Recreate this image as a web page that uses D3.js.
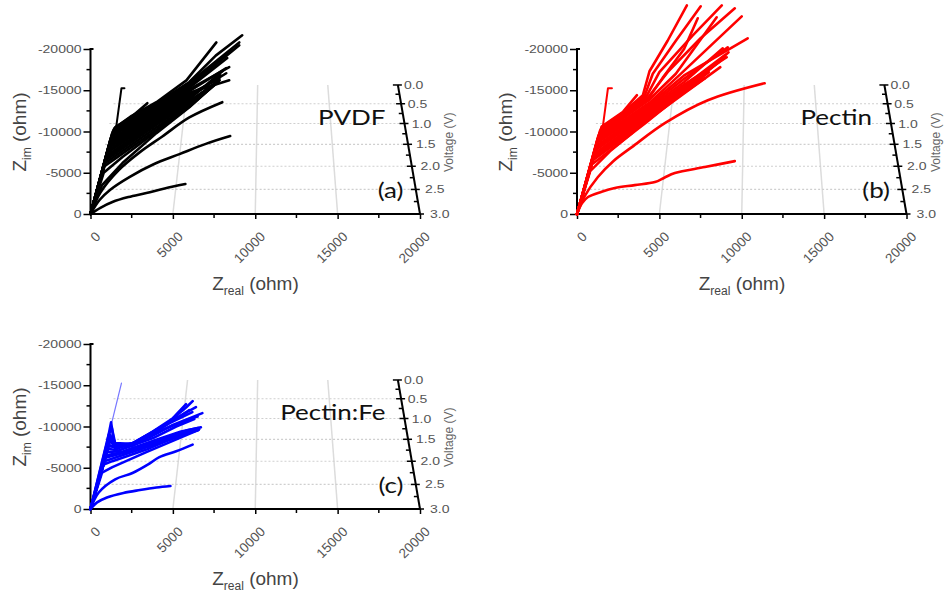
<!DOCTYPE html>
<html>
<head>
<meta charset="utf-8">
<script src="https://cdn.jsdelivr.net/npm/d3@7"></script>
<style>
  body { margin: 0; background: #fff; }
  svg { display: block; }
</style>
</head>
<body>
<svg id="chart" width="944" height="592"></svg>
<script>
// axis ticks
var xTicks = [0, 5000, 10000, 15000, 20000];
var xMinor = [2500, 7500, 12500, 17500];
var yTicks = [0, 5000, 10000, 15000, 20000];   // shown as -Z_im
var yMinor = [2500, 7500, 12500, 17500];
var vTicks = [0.0, 0.5, 1.0, 1.5, 2.0, 2.5, 3.0];
var vMinor = [0.25, 0.75, 1.25, 1.75, 2.25, 2.75];
var vGrid = [0.5, 1.0, 1.5, 2.0, 2.5];
var xGrid = [5000, 10000, 15000];

var panelNames = ['PVDF', 'Pectin', 'Pectin:Fe'];
var panelTags = ['(a)', '(b)', '(c)'];
var panelColors = ['#000000', '#ff0000', '#0000ff'];

// curves: [Z_real, -Z_im] in ohm, one array per voltage step
// "Bundle" = dense low-voltage sweeps, "Lower" = the separated high-voltage sweeps
var pvdfNotch = [[0, 0], [800, 5800], [1575, 10770], [1880, 15250], [2060, 15250]];
var pvdfBundle = [
  [[0, 0], [1500, 10500], [2500, 11800], [3450, 13430]],
  [[0, 0], [1450, 10400], [2500, 11900], [4000, 13550], [5820, 16200], [7640, 20800]],
  [[0, 0], [1400, 10200], [2600, 11700], [4000, 13400], [6000, 16000], [7600, 19200], [9210, 21660]],
  [[0, 0], [1350, 10000], [4000, 13300], [6000, 15900], [9030, 20800]],
  [[0, 0], [1300, 9700], [4000, 13100], [6000, 15700], [8600, 19840]],
  [[0, 0], [1300, 9500], [4000, 13000], [6000, 15500], [9030, 20450]],
  [[0, 0], [1250, 9300], [4000, 12800], [6000, 15300], [8300, 18900]],
  [[0, 0], [1200, 9000], [4000, 12600], [6000, 15100], [8420, 17790]],
  [[0, 0], [1200, 8800], [4000, 12400], [6000, 14900], [8240, 17670]],
  [[0, 0], [1150, 8500], [4000, 12200], [6000, 14700], [8420, 16200]],
  [[0, 0], [1100, 8200], [4000, 12000], [6000, 14500], [7820, 16450]],
  [[0, 0], [1100, 8000], [4000, 11800], [6000, 14300], [8240, 17060]],
  [[0, 0], [1050, 7700], [4000, 11600], [6000, 14100], [7900, 16800]],
  [[0, 0], [1000, 7400], [4000, 11400], [6000, 13900], [8000, 17300]],
  [[0, 0], [1000, 7100], [4000, 11200], [6000, 13700], [7700, 16000]],
  [[0, 0], [950, 6800], [4000, 11000], [6000, 13600], [7820, 16210]],
  [[0, 0], [900, 6500], [4000, 10800], [6000, 13400], [7600, 15800]],
  [[0, 0], [900, 6200], [4000, 10500], [6000, 13200], [7800, 16300]],
  [[0, 0], [850, 5800], [4000, 10200], [6000, 13100], [7700, 15900]],
  [[0, 0], [800, 5000], [1940, 6900], [4000, 10000], [6000, 13000], [7820, 16210]],
  [[0, 0], [700, 3500], [1940, 6170], [4000, 9800], [6000, 12950], [7820, 16210]]
];
var pvdfLower = [
  [[0, 0], [600, 2600], [1700, 5300], [3000, 7500], [4360, 9400], [6000, 11700], [8000, 13550]],
  [[0, 0], [550, 1700], [1200, 2950], [2360, 4480], [3800, 6000], [5400, 7260], [7000, 8500], [8480, 9440]],
  [[0, 0], [600, 750], [1330, 1450], [2300, 2050], [3390, 2540], [4500, 3100], [5760, 3630]]
];

var pectinNotch = [[0, 0], [800, 5800], [1580, 10770], [1880, 15250], [2120, 15250]];
var pectinBundle = [
  [[0, 0], [1500, 10600], [2800, 12400], [3640, 14400]],
  [[0, 0], [1500, 10500], [2800, 12300], [4000, 14400], [4400, 17300], [5500, 21000], [6670, 25290]],
  [[0, 0], [1450, 10300], [2800, 12200], [4100, 14300], [4600, 17000], [6000, 21000], [7510, 25170]],
  [[0, 0], [1400, 10100], [4200, 14200], [5000, 17200], [7000, 21600], [8790, 25290]],
  [[0, 0], [1400, 9900], [4300, 14100], [5500, 17200], [7500, 21300], [9580, 24930]],
  [[0, 0], [1350, 9700], [4300, 13900], [5200, 16500], [6500, 20000], [7330, 23720]],
  [[0, 0], [1300, 9500], [4300, 13700], [6000, 17000], [8480, 23840]],
  [[0, 0], [1300, 9300], [4400, 13500], [6200, 16800], [10000, 23960]],
  [[0, 0], [1250, 9100], [4400, 13300], [6500, 16800], [10360, 21300]],
  [[0, 0], [1250, 8900], [4400, 13100], [6500, 16400], [9150, 20200]],
  [[0, 0], [1200, 8600], [4400, 12900], [6500, 16000], [8850, 20090]],
  [[0, 0], [1200, 8300], [4400, 12700], [6500, 15700], [9090, 19000]],
  [[0, 0], [1150, 8000], [4400, 12500], [6500, 15500], [9000, 19300]],
  [[0, 0], [1100, 7700], [4400, 12300], [6500, 15300], [8600, 18400]],
  [[0, 0], [1100, 7400], [4400, 12100], [6500, 15100], [9000, 19000]],
  [[0, 0], [1050, 7100], [4400, 11900], [6500, 14900], [8000, 17200]],
  [[0, 0], [1000, 6800], [4400, 11700], [6500, 14800], [9200, 19600]],
  [[0, 0], [950, 6500], [4300, 11400], [6500, 14600], [8700, 17800]],
  [[0, 0], [900, 6000], [4200, 11100], [6000, 14000], [7760, 16450]],
  [[0, 0], [800, 5200], [2000, 7600], [3330, 9800], [4730, 12580], [5940, 14640], [7760, 16450]]
];
var pectinLower = [
  [[0, 0], [450, 2100], [1270, 4480], [2200, 6400], [3330, 8110], [5330, 11010], [7940, 13790], [11390, 15850]],
  [[0, 0], [300, 1300], [670, 2060], [1500, 2700], [2300, 3150], [3500, 3500], [4730, 3870], [5300, 4400], [5940, 4960], [7760, 5690], [9580, 6410]]
];

var pectinFeNotch = [[0, 0], [1880, 15250]];
var pectinFeBundle = [
  [[0, 0], [1000, 8000], [1250, 10500], [1400, 8500], [1550, 7700], [2300, 7600], [3300, 8800], [4600, 10300], [5800, 12300], [6200, 13070]],
  [[0, 0], [1100, 9000], [1300, 9800], [1500, 7900], [2300, 7700], [3500, 9000], [4800, 10600], [6400, 12340]],
  [[0, 0], [1200, 9000], [1400, 8000], [2500, 7900], [3800, 9400], [5000, 11000], [5800, 12700]],
  [[0, 0], [1150, 8500], [1450, 7600], [2500, 7600], [3600, 8900], [4800, 10400], [6180, 11740]],
  [[0, 0], [1150, 8200], [1500, 7700], [2700, 8000], [4000, 9600], [5500, 11300], [6000, 12000]],
  [[0, 0], [1100, 7800], [1600, 7300], [3700, 8800], [5000, 10200], [6790, 11620]],
  [[0, 0], [1100, 7600], [1700, 7500], [3000, 8200], [4500, 9700], [6000, 10900], [6500, 11200]],
  [[0, 0], [1050, 7300], [1700, 7100], [3800, 8600], [5200, 10000], [6300, 10900]],
  [[0, 0], [1000, 6900], [2000, 7000], [4000, 8400], [5500, 9400], [6540, 9800]],
  [[0, 0], [950, 6500], [2000, 6900], [4000, 8300], [5800, 9500], [6700, 9900]],
  [[0, 0], [900, 6200], [2200, 6900], [4000, 8100], [6000, 9400], [6600, 9700]],
  [[0, 0], [850, 5800], [2200, 6700], [4200, 8000], [6540, 9560]],
  [[0, 0], [800, 5400], [1330, 5800], [3390, 7200], [5390, 8900], [6540, 9600]],
  [[0, 0], [700, 4400], [1330, 5080], [3390, 6900], [5390, 8590], [6540, 9560]]
];
var pectinFeLower = [
  [[0, 0], [500, 2000], [1500, 3600], [2550, 4360], [3500, 5400], [4180, 6290], [5200, 7000], [6200, 7800]],
  [[0, 0], [400, 800], [1000, 1400], [2000, 1950], [3000, 2300], [4000, 2600], [4850, 2780]]
];

var svg = d3.select('#chart');
var labelFont = '"Liberation Sans", Arial, sans-serif';
var tagFont = 'Lato, "Open Sans", sans-serif';
var squash = 'scale(1,0.82)';

// perspective of the voltage floor
var persp = 0.175, floorH = 151.6, vanishDx = 181;
var depth = d3.scaleLinear().domain([3, 0]).range([0, 1]);

function drawPanel(i, x0, y0, bundle, lower, notch, notchStyle) {
  var color = panelColors[i];
  var g = svg.append('g');
  var xs = d3.scaleLinear().domain([0, 20000]).range([x0, x0 + 329.5]);
  var ys = d3.scaleLinear().domain([0, 20000]).range([y0, y0 - 165]);

  function floorPt(x, v) {
    var d = depth(v), s = 1 / (1 + persp * d);
    var cx = x0 + vanishDx;
    return [cx + (xs(x) - cx) * s, y0 - floorH * d * s, d];
  }

  // floor grid
  xGrid.forEach(function(x) {
    var a = floorPt(x, 3), b = floorPt(x, 0);
    g.append('line').attr('x1', a[0]).attr('y1', a[1]).attr('x2', b[0]).attr('y2', b[1])
      .style('stroke', '#dcdcdc').style('stroke-width', 1.5);
  });
  vGrid.forEach(function(v) {
    var a = floorPt(0, v), b = floorPt(20000, v);
    g.append('line').attr('x1', a[0]).attr('y1', a[1]).attr('x2', b[0]).attr('y2', b[1])
      .style('stroke', '#cfcfcf').style('stroke-width', 1.2).style('stroke-dasharray', '2,2');
  });

  // voltage axis (right edge of floor)
  var va = floorPt(20000, 3), vb = floorPt(20000, 0);
  g.append('line').attr('x1', va[0]).attr('y1', va[1]).attr('x2', vb[0]).attr('y2', vb[1])
    .style('stroke', '#000').style('stroke-width', 2);
  vMinor.forEach(function(v) {
    var p = floorPt(20000, v);
    g.append('line').attr('x1', p[0] - 4).attr('y1', p[1]).attr('x2', p[0]).attr('y2', p[1])
      .style('stroke', '#000').style('stroke-width', 1.5);
  });
  vTicks.forEach(function(v) {
    var p = floorPt(20000, v);
    g.append('line').attr('x1', p[0] - 5).attr('y1', p[1]).attr('x2', p[0] + 4).attr('y2', p[1])
      .style('stroke', '#000').style('stroke-width', 1.5);
    g.append('text').attr('transform', 'translate(' + (p[0] + 6 + 4 * (1 - p[2])) + ',' + p[1] + ') ' + squash)
      .attr('dy', '0.35em')
      .style('font-family', labelFont).style('font-size', '14px').style('fill', '#555')
      .text(d3.format('.1f')(v));
  });
  var vm = floorPt(20000, 1.5);
  g.append('text').attr('transform', 'translate(' + (vm[0] + 45) + ',' + (vm[1] - 2) + ') rotate(-90)')
    .attr('text-anchor', 'middle')
    .style('font-family', labelFont).style('font-size', '12px').style('fill', '#666')
    .text('Voltage (V)');

  // x axis
  var xAxis = g.append('g').attr('transform', 'translate(0,' + y0 + ')')
    .call(d3.axisBottom(xs).tickValues(xTicks).tickSize(5).tickFormat(d3.format('d')));
  xAxis.append('g').selectAll('line').data(xMinor).enter().append('line')
    .attr('x1', function(d) { return xs(d); }).attr('x2', function(d) { return xs(d); })
    .attr('y1', 0).attr('y2', 4).style('stroke', '#000').style('stroke-width', 1.5);
  xAxis.select('.domain').attr('d', 'M' + x0 + ',0H' + (x0 + 329.5)).style('stroke-width', 2);
  xAxis.selectAll('.tick line').style('stroke-width', 1.5);
  xAxis.selectAll('.tick text')
    .attr('x', 0).attr('y', 0).attr('dy', '0.35em')
    .attr('transform', 'translate(7,20) rotate(-45)')
    .attr('text-anchor', 'end')
    .style('font-family', labelFont).style('font-size', '13.5px').style('fill', '#555');

  // y axis
  var yAxis = g.append('g').attr('transform', 'translate(' + x0 + ',0)')
    .call(d3.axisLeft(ys).tickValues(yTicks).tickSize(7)
      .tickFormat(function(d) { return d === 0 ? '0' : '-' + d; }));
  yAxis.append('g').selectAll('line').data(yMinor).enter().append('line')
    .attr('y1', function(d) { return ys(d); }).attr('y2', function(d) { return ys(d); })
    .attr('x1', -4).attr('x2', 0).style('stroke', '#000').style('stroke-width', 1.5);
  yAxis.select('.domain').attr('d', 'M3,' + (y0 - 165) + 'H0V' + y0).style('stroke-width', 2).style('fill', 'none');
  yAxis.selectAll('.tick line').style('stroke-width', 1.5);
  yAxis.selectAll('.tick text')
    .attr('x', -9).attr('transform', squash)
    .style('font-family', labelFont).style('font-size', '14px').style('fill', '#555');

  // axis titles
  var xt = g.append('text').attr('transform', 'translate(' + (x0 + 165) + ',' + (y0 + 76) + ')')
    .attr('text-anchor', 'middle')
    .style('font-family', labelFont).style('font-size', '19px').style('fill', '#444');
  xt.append('tspan').text('Z');
  xt.append('tspan').attr('dy', 5).style('font-size', '12px').text('real');
  xt.append('tspan').attr('dy', -5).text(' (ohm)');

  var yt = g.append('text').attr('transform', 'translate(' + (x0 - 65) + ',' + (y0 - 82) + ') rotate(-90)')
    .attr('text-anchor', 'middle')
    .style('font-family', labelFont).style('font-size', '19px').style('fill', '#444');
  yt.append('tspan').text('Z');
  yt.append('tspan').attr('dy', 5).style('font-size', '12px').text('im');
  yt.append('tspan').attr('dy', -5).text(' (ohm)');

  // curves: dense sweeps as straight segments, separated sweeps smoothed
  var line = d3.line()
    .x(function(d) { return xs(d[0]); })
    .y(function(d) { return ys(d[1]); });
  var smooth = d3.line()
    .x(function(d) { return xs(d[0]); })
    .y(function(d) { return ys(d[1]); })
    .curve(d3.curveCatmullRom.alpha(0.5));

  g.append('path').datum(notch).attr('d', line)
    .style('fill', 'none').style('stroke', notchStyle.color || color)
    .style('stroke-width', notchStyle.width).style('stroke-linecap', 'round').style('stroke-linejoin', 'round');

  g.append('g').selectAll('path').data(bundle).enter().append('path')
    .attr('d', line)
    .style('fill', 'none').style('stroke', color).style('stroke-width', 2.6)
    .style('stroke-linecap', 'round').style('stroke-linejoin', 'round');

  g.append('g').selectAll('path').data(lower).enter().append('path')
    .attr('d', smooth)
    .style('fill', 'none').style('stroke', color).style('stroke-width', 2.6)
    .style('stroke-linecap', 'round').style('stroke-linejoin', 'round');

  // panel labels
  g.append('text').attr('transform', 'translate(' + (x0 + 295) + ',' + (y0 - 89) + ') ' + squash)
    .attr('text-anchor', 'end')
    .style('font-family', tagFont).style('font-size', '26px').style('fill', '#111')
    .text(panelNames[i]);
  g.append('text').attr('transform', 'translate(' + (x0 + 313) + ',' + (y0 - 16) + ') ' + squash)
    .attr('text-anchor', 'end')
    .style('font-family', tagFont).style('font-size', '26px').style('fill', '#111')
    .text(panelTags[i]);
}

drawPanel(0, 90.5, 214, pvdfBundle, pvdfLower, pvdfNotch, { width: 2 });
drawPanel(1, 577, 214, pectinBundle, pectinLower, pectinNotch, { width: 2 });
drawPanel(2, 90.5, 509, pectinFeBundle, pectinFeLower, pectinFeNotch, { width: 1.2, color: '#7777ff' });
</script>
</body>
</html>
